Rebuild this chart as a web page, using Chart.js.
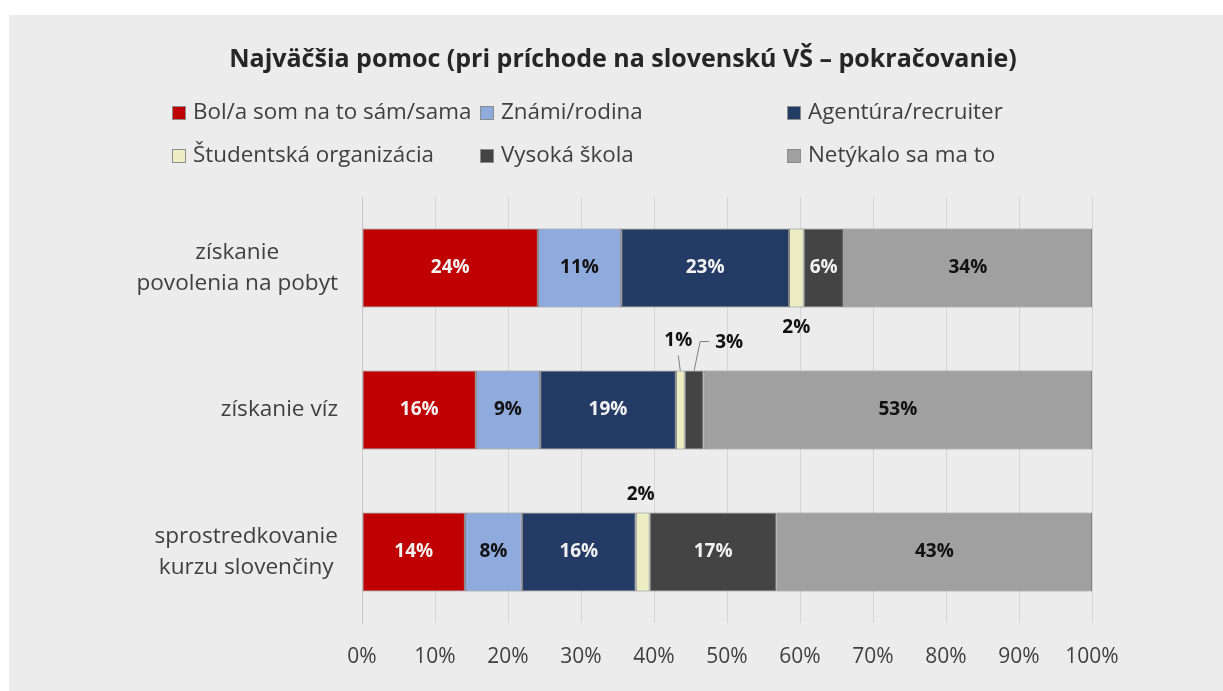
<!DOCTYPE html>
<html>
<head>
<meta charset="utf-8">
<title>Najväčšia pomoc</title>
<script src="https://cdn.jsdelivr.net/npm/chart.js@4.4.1/dist/chart.umd.min.js"></script>
<style>
  html, body { margin: 0; padding: 0; background: #ffffff; }
  #panel { position: absolute; left: 9px; top: 15px; width: 1214px; height: 676px; background: #ececec; }
  canvas { display: block; }
</style>
</head>
<body>
<div id="panel"><canvas id="chart" width="1214" height="676"></canvas></div>
<script>
// data
const categories = [
  ['získanie', 'povolenia na pobyt'],
  ['získanie víz'],
  ['sprostredkovanie', 'kurzu slovenčiny']
];
const seriesNames = [
  'Bol/a som na to sám/sama',
  'Známi/rodina',
  'Agentúra/recruiter',
  'Študentská organizácia',
  'Vysoká škola',
  'Netýkalo sa ma to'
];
const selfHelp      = [24.1, 15.6, 14.1];
const friendsFamily = [11.4, 8.8, 7.8];
const agency        = [23.0, 18.6, 15.6];
const studentOrg    = [2.0, 1.2, 1.9];
const university    = [5.5, 2.6, 17.4];
const notConcerned  = [34.0, 53.2, 43.2];
const xTickValues   = [0, 10, 20, 30, 40, 50, 60, 70, 80, 90, 100];

const FONT = '"Open Sans", "Noto Sans", sans-serif';
const colors = ['#c00000', '#8faadc', '#243b65', '#ededc3', '#444444', '#a0a0a0'];
const labelColors = ['#f2f2f2', '#111111', '#f2f2f2', '#111111', '#f2f2f2', '#111111'];

// labels that sit outside their thin segments: [dataset, index] -> placement
const outsideLabels = [
  { ds: 3, i: 0, side: 'below', dx: 0, dy: 20 },
  { ds: 3, i: 1, side: 'above', dx: -2, dy: -30, leader: [[-2, -15], [0, 0]] },
  { ds: 4, i: 1, side: 'above', dx: 35, dy: -28, leader: [[15, -29], [6, -29], [0, 0]] },
  { ds: 3, i: 2, side: 'above', dx: -2, dy: -18 }
];

const seriesData = [selfHelp, friendsFamily, agency, studentOrg, university, notConcerned];

const datasets = seriesNames.map((name, k) => ({
  label: name,
  data: seriesData[k],
  backgroundColor: colors[k],
  borderColor: '#7f7f7f',
  borderWidth: 1,
  borderSkipped: false,
  categoryPercentage: 1,
  barPercentage: 0.556
}));

// title, legend grid and category labels
const decorPlugin = {
  id: 'decor',
  afterDraw(chart) {
    const ctx = chart.ctx;
    const area = chart.chartArea;
    ctx.save();

    ctx.fillStyle = '#262626';
    ctx.font = 'bold 25px ' + FONT;
    ctx.textAlign = 'center';
    ctx.textBaseline = 'middle';
    ctx.fillText('Najväčšia pomoc (pri príchode na slovenskú VŠ – pokračovanie)', 614, 45);

    const colX = [163, 471, 778];
    const rowY = [98, 141];
    ctx.font = '22.4px ' + FONT;
    ctx.textAlign = 'left';
    seriesNames.forEach((name, k) => {
      const x = colX[k % 3];
      const y = rowY[Math.floor(k / 3)];
      ctx.fillStyle = colors[k];
      ctx.fillRect(x, y - 7, 14, 14);
      ctx.strokeStyle = '#8c8c8c';
      ctx.lineWidth = 1;
      ctx.strokeRect(x + 0.5, y - 6.5, 13, 13);
      ctx.fillStyle = '#404040';
      ctx.fillText(name, x + 21, y);
    });

    // category labels, each block centred on its widest line
    const yScale = chart.scales.y;
    const right = area.left - 24;
    ctx.font = '22.6px ' + FONT;
    ctx.textAlign = 'center';
    ctx.fillStyle = '#404040';
    categories.forEach((lines, i) => {
      const cy = yScale.getPixelForTick(i);
      const w = Math.max(...lines.map(l => ctx.measureText(l).width));
      const lh = 31;
      lines.forEach((l, j) => {
        ctx.fillText(l, right - w / 2, cy + (j - (lines.length - 1) / 2) * lh);
      });
    });
    ctx.restore();
  }
};

// percentage labels on the segments
const valuePlugin = {
  id: 'values',
  afterDatasetsDraw(chart) {
    const ctx = chart.ctx;
    ctx.save();
    ctx.font = 'bold 19px ' + FONT;
    ctx.textAlign = 'center';
    ctx.textBaseline = 'middle';
    chart.data.datasets.forEach((ds, d) => {
      const meta = chart.getDatasetMeta(d);
      meta.data.forEach((bar, i) => {
        const text = Math.round(ds.data[i]) + '%';
        const cx = (bar.x + bar.base) / 2;
        const out = outsideLabels.find(o => o.ds === d && o.i === i);
        if (out) {
          const edge = out.side === 'below' ? bar.y + bar.height / 2 : bar.y - bar.height / 2;
          if (out.leader) {
            ctx.strokeStyle = '#7f7f7f';
            ctx.lineWidth = 1;
            ctx.beginPath();
            out.leader.forEach(([lx, ly], n) => {
              if (n === 0) ctx.moveTo(cx + lx, edge + ly);
              else ctx.lineTo(cx + lx, edge + ly);
            });
            ctx.stroke();
          }
          ctx.fillStyle = '#111111';
          ctx.fillText(text, cx + out.dx, edge + out.dy);
        } else {
          ctx.fillStyle = labelColors[d];
          ctx.fillText(text, cx, bar.y);
        }
      });
    });
    ctx.restore();
  }
};

new Chart(document.getElementById('chart'), {
  type: 'bar',
  data: { labels: categories.map(c => c.join(' ')), datasets },
  options: {
    indexAxis: 'y',
    responsive: false,
    animation: false,
    layout: { padding: { top: 182, right: 131, left: 0, bottom: 0 } },
    plugins: { legend: { display: false }, tooltip: { enabled: false }, title: { display: false } },
    scales: {
      x: {
        stacked: true,
        min: 0,
        max: 100,
        afterBuildTicks(scale) { scale.ticks = xTickValues.map(v => ({ value: v })); },
        afterFit(scale) { scale.height = 68; },
        grid: { color: '#d6d6d6', lineWidth: 1, drawTicks: false },
        border: { display: false },
        ticks: {
          padding: 21,
          color: '#404040',
          font: { family: FONT, size: 21 },
          callback: v => v + '%'
        }
      },
      y: {
        stacked: true,
        afterFit(scale) { scale.width = 353; },
        grid: { display: false },
        border: { display: true, color: '#c8c8c8' },
        ticks: { display: false }
      }
    }
  },
  plugins: [decorPlugin, valuePlugin]
});
</script>
</body>
</html>
